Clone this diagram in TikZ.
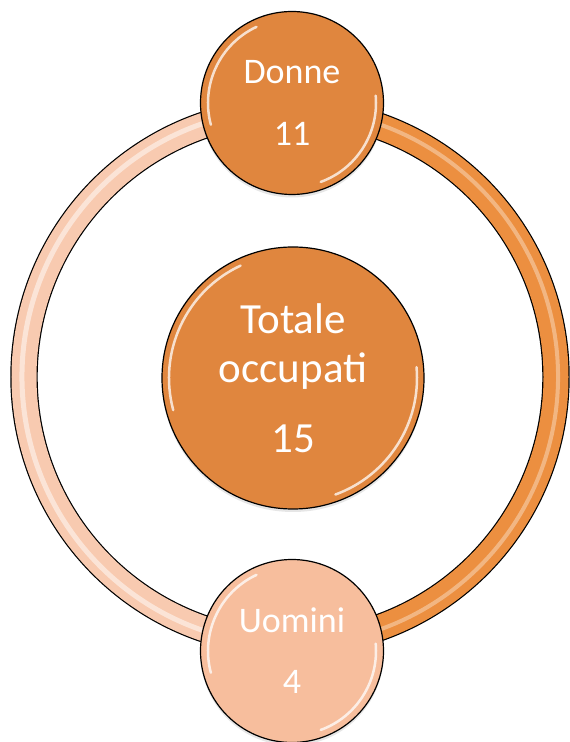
\documentclass[tikz,border=0pt]{standalone}
\usepackage{fontspec}
\setmainfont{Carlito}
\usepackage{tikz}
\usetikzlibrary{shadows}

\definecolor{bubbledark}{RGB}{224,134,62}
\definecolor{bubblelight}{RGB}{247,190,157}
\definecolor{ringdark}{RGB}{236,143,64}
\definecolor{ringlight}{RGB}{248,202,176}

\tikzset{
    bubble/.style={circle, draw=black, line width=1.2, text=white, align=center, inner sep=0,
        drop shadow={opacity=0.2, shadow xshift=0, shadow yshift=-3}},
    band/.style={line width=1.2, double distance=25},
    gloss/.style={white, line width=2.5, opacity=0.75, line cap=round}
}

\begin{document}
\begin{tikzpicture}[x=1pt, y=1pt]
            \useasboundingbox (0, 0) rectangle (570, 742);
            \coordinate (ring) at (290, 365);

            % ring
            \draw[band, double=ringlight] ([shift={(90:266)}]ring) arc[start angle=90, end angle=270, radius=266];
            \draw[band, double=ringdark] ([shift={(90:266)}]ring) arc[start angle=90, end angle=-90, radius=266];
            \draw[white, line width=5, opacity=0.5] ([shift={(100:268)}]ring) arc[start angle=100, end angle=260, radius=268];
            \draw[white, line width=4, opacity=0.35] ([shift={(80:268)}]ring) arc[start angle=80, end angle=-80, radius=268];

            \node[bubble, fill=bubbledark, minimum size=183, font=\fontsize{36}{62}\selectfont] at (292, 639) (donne)
                {Donne\\11};
            \node[bubble, fill=bubblelight, minimum size=183, font=\fontsize{36}{61}\selectfont] at (292, 91) (uomini)
                {Uomini\\4};
            \node[bubble, fill=bubbledark, minimum size=262, font=\fontsize{43}{49}\selectfont] at (293, 364) (totale)
                {Totale\\occupati\\[21pt]15};

            % gloss
            \foreach \n/\r in {donne/91, uomini/91, totale/131} {
                \draw[gloss] ([shift={(115:{\r-7})}]\n.center) arc[start angle=115, end angle=195, radius=\r-7];
                \draw[gloss] ([shift={(-70:{\r-7})}]\n.center) arc[start angle=-70, end angle=5, radius=\r-7];
            }
        \end{tikzpicture}
\end{document}
